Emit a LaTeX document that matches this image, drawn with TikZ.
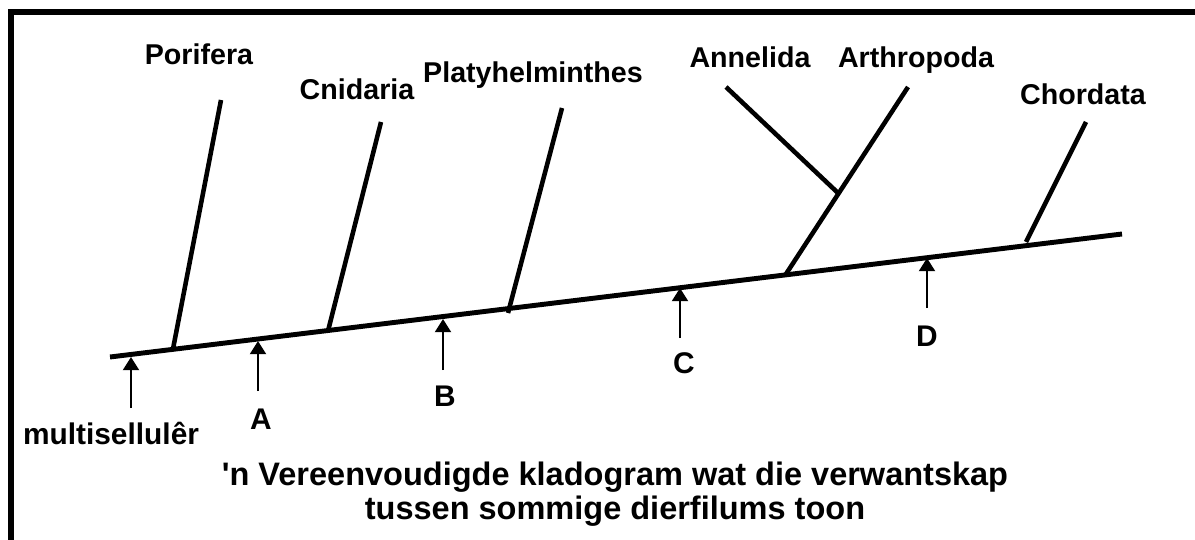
\documentclass[tikz,border=0pt]{standalone}
\usepackage{fontspec}
\newfontfamily\lsans{Liberation Sans}
\usetikzlibrary{arrows.meta}
\begin{document}
\begin{tikzpicture}[x=0.02cm,y=-0.02cm,
  frame/.style={line width=3.4pt},
  axis/.style={line width=2.8pt},
  branch/.style={line width=2.6pt},
  marker/.style={line width=1.5pt,-{Triangle[length=7.5pt,width=9pt]}},
  lbl/.style={font=\lsans\bfseries\fontsize{16.3}{19}\selectfont,anchor=base,inner sep=0pt},
  letter/.style={font=\lsans\bfseries\fontsize{17}{19}\selectfont,anchor=base,inner sep=0pt},
  title/.style={font=\lsans\bfseries\fontsize{18.5}{19}\selectfont,align=center,inner sep=0pt}]
\useasboundingbox (0,0) rectangle (1195,540);
% frame
\coordinate (f1) at (11,540);
\coordinate (f2) at (11,12);
\coordinate (f3) at (1195,12);
\draw[frame] (f1) -- (f2) -- (f3);
% main axis
\coordinate (a0) at (110,357);
\coordinate (a1) at (1122,234);
\draw[axis] (a0) -- (a1);
% branches
\coordinate (pb) at (173,349); \coordinate (pt) at (221,100);
\coordinate (cb) at (328,331); \coordinate (ct) at (381,122);
\coordinate (hb) at (508,313); \coordinate (ht) at (562,108);
\coordinate (rb) at (786,274); \coordinate (rt) at (908,87);
\coordinate (nj) at (838,193); \coordinate (nt) at (726,87);
\coordinate (ob) at (1026,242); \coordinate (ot) at (1086,122);
\draw[branch] (pb) -- (pt);
\draw[branch] (cb) -- (ct);
\draw[branch] (hb) -- (ht);
\draw[branch] (rb) -- (rt);
\draw[branch] (nj) -- (nt);
\draw[branch] (ob) -- (ot);
% labels
\node[lbl] (por) at (199,65) {Porifera};
\node[lbl] (cni) at (357,100) {Cnidaria};
\node[lbl] (pla) at (533,83) {Platyhelminthes};
\node[lbl] (ann) at (750,68) {Annelida};
\node[lbl] (art) at (916,68) {Arthropoda};
\node[lbl] (cho) at (1083,105) {Chordata};
% markers
\node[letter] (mul) at (111,444) {multisellulêr};
\node[letter] (la) at (261,429) {A};
\node[letter] (lb) at (445,406) {B};
\node[letter] (lc) at (684,373) {C};
\node[letter] (ld) at (927,346) {D};
\coordinate (m0) at (131,408); \coordinate (m0t) at (131,357);
\coordinate (ma) at (258,391); \coordinate (mat) at (258,341);
\coordinate (mb) at (443,370); \coordinate (mbt) at (443,319);
\coordinate (mc) at (680,338); \coordinate (mct) at (680,288);
\coordinate (md) at (927,308); \coordinate (mdt) at (927,258);
\draw[marker] (m0) -- (m0t);
\draw[marker] (ma) -- (mat);
\draw[marker] (mb) -- (mbt);
\draw[marker] (mc) -- (mct);
\draw[marker] (md) -- (mdt);
% title
\node[title] (ttl) at (615,494) {'n Vereenvoudigde kladogram wat die verwantskap\\tussen sommige dierfilums toon};
\end{tikzpicture}
\end{document}
